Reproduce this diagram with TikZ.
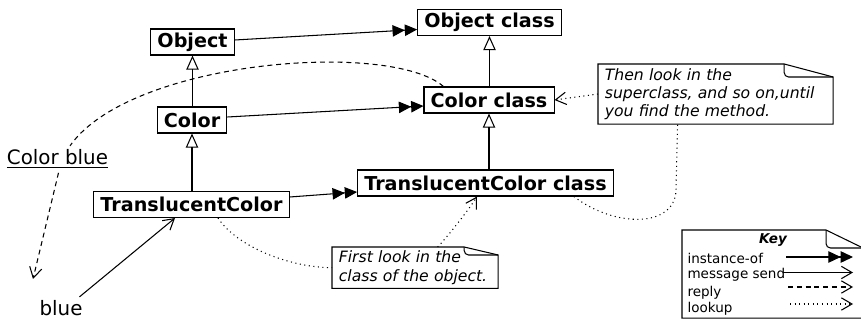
\documentclass[tikz,border=0pt]{standalone}
\usepackage{fontspec}
\setmainfont{DejaVu Sans}
\usepackage{tikz}
\usetikzlibrary{arrows.meta}

\tikzset{
    cls/.style={draw, font=\bfseries\fontsize{10.9}{13}\selectfont, inner xsep=3.8pt, inner ysep=0pt, minimum height=0.52cm},
    plain/.style={font=\fontsize{11.3}{13}\selectfont, inner sep=2pt},
    note/.style={font=\itshape\fontsize{8.9}{10.3}\selectfont, align=left, inner xsep=3.6pt, inner ysep=2pt, anchor=north west},
    keytxt/.style={font=\fontsize{7.7}{9}\selectfont, inner sep=0pt, anchor=base west},
    inst/.style={-{Triangle[length=7pt,width=6.5pt,sep=0pt]Triangle[length=7pt,width=6.5pt]}},
    inherit/.style={-{Triangle[open,length=8pt,width=7pt]}},
    send/.style={-{Straight Barb[length=6pt,width=7pt]}},
    dashline/.style={dash pattern=on 2.8pt off 2.2pt},
    dotline/.style={dash pattern=on 0.6pt off 2pt},
    reply/.style={send, dashline},
    lookup/.style={send, dotline},
}

% note outline with a curled corner: name, fold width, fold height
\newcommand{\curlnote}[3]{%
    \coordinate (#1-p) at ([xshift=-#2]#1.north east);
    \coordinate (#1-q) at ([yshift=-#3]#1.north east);
    \draw (#1.north west) -- (#1-p) -- (#1-q) -- (#1.south east) -- (#1.south west) -- cycle;
    \draw[rounded corners=2.5pt] (#1-p) -- (#1-p |- #1-q) -- (#1-q);
}

\begin{document}
\begin{tikzpicture}[x=0.02cm, y=-0.02cm, line width=0.6pt]
    \useasboundingbox (0,0) rectangle (861,320);

    \node[cls] (obj) at (192.5,42) {Object};
    \node[cls] (objcls) at (489.5,22.5) {Object class};
    \node[cls] (col) at (192,120) {Color};
    \node[cls] (colcls) at (489,100) {Color class};
    \node[cls] (tc) at (191.5,204.5) {TranslucentColor};
    \node[cls] (tccls) at (485.5,183) {TranslucentColor class};

    \node[plain, anchor=base] (cb) at (57.5,165) {\underline{Color blue}};
    \node[plain, anchor=base] (bl) at (61,316) {blue};
    \coordinate (rend) at (33,279);

    \node[note, text width=3.05cm, minimum height=0.8cm] (n1) at (332,247) {First look in the\\class of the object.};
    \node[note, text width=4.43cm, minimum height=1.18cm] (n2) at (598,64) {Then look in the\\superclass, and so on,until\\you find the method.};
    \curlnote{n1}{0.68cm}{0.16cm}
    \curlnote{n2}{0.98cm}{0.26cm}

    \draw[inst] ([yshift=0.04cm]obj.east) -- ([yshift=-0.14cm]objcls.west);
    \draw[inst] ([yshift=0.06cm]col.east) -- ([yshift=-0.12cm]colcls.west);
    \draw[inst] ([yshift=0.15cm]tc.east) -- ([yshift=-0.18cm]tccls.west);

    \draw[inherit] (obj.south |- col.north) -- (obj.south);
    \draw[inherit] (col.south |- tc.north) -- (col.south);
    \draw[inherit] (objcls.south |- colcls.north) -- (objcls.south);
    \draw[inherit] (colcls.south |- tccls.north) -- (colcls.south);

    \draw[send] ([xshift=-4pt]bl.north east) -- ([xshift=-0.33cm]tc.south);

    \draw[dashline] ([xshift=0.4cm]colcls.north west) .. controls (390,40) and (130,60) .. ([xshift=0.25cm]cb.north);
    \draw[reply] ([xshift=0.02cm]cb.south) -- (rend);

    \draw[dotline] ([xshift=0.53cm]tc.south) .. controls +(20,30) and +(-40,0) .. (n1.west);
    \draw[lookup] ([xshift=0.45cm]n1.north) .. controls +(10,-10) and +(-6,10) .. ([xshift=-0.17cm]tccls.south);
    \draw[dotline] ([xshift=-0.8cm]tccls.south east) .. controls (615,228) and (675,228) .. (676,190) -- ([xshift=-0.76cm]n2.south);
    \draw[lookup] (n2.west) -- (colcls.east);

    % key
    \node[minimum width=3.6cm, minimum height=1.74cm, anchor=north west, inner sep=0pt] (key) at (682,230) {};
    \curlnote{key}{0.74cm}{0.36cm}
    \node[font=\bfseries\itshape\fontsize{7.7}{9}\selectfont, anchor=base] (keyttl) at (773,244) {Key};
    \node[keytxt] (kinst) at (687,264) {instance-of};
    \node[keytxt] (ksend) at (687,278.5) {message send};
    \node[keytxt] (krep) at (687,296.5) {reply};
    \node[keytxt] (klook) at (687,312) {lookup};
    \draw[inst] (786,257) -- (853,257);
    \draw[send] (783,272.5) -- (853,272.5);
    \draw[reply] (788,287) -- (853,287);
    \draw[lookup] (790,304) -- (853,304);
\end{tikzpicture}
\end{document}
